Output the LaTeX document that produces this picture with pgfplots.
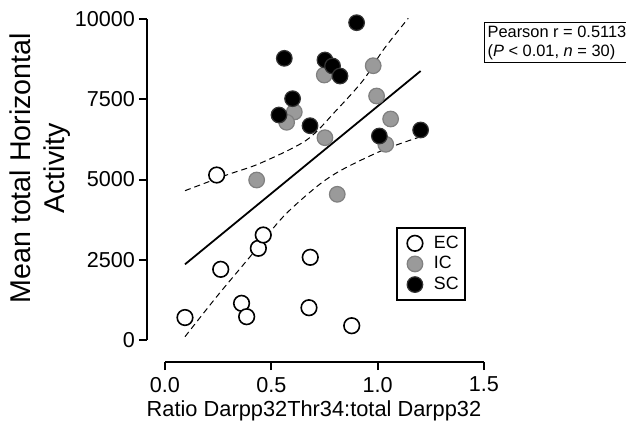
\documentclass[border=0pt]{standalone}
\usepackage{fontspec}
\setmainfont{Liberation Sans}
\usepackage{pgfplots}
\pgfplotsset{compat=1.18}
\definecolor{icgray}{HTML}{9A9A9A}
\definecolor{icedge}{HTML}{808080}

\begin{document}
\begin{tikzpicture}
\useasboundingbox (-82.5pt,-41.5pt) rectangle (230.5pt,170pt);
\begin{axis}[
  at={(0pt,0pt)}, anchor=south west,
  scale only axis,
  width=159.5pt, height=160.5pt,
  xmin=0, xmax=1.5, ymin=0, ymax=10000,
  clip=false,
  axis x line=bottom, axis y line=left,
  axis x line shift=11pt, axis y line shift=9pt,
  axis line style={-, line width=1pt},
  xtick={0,0.5,1,1.5}, ytick={0,2500,5000,7500,10000},
  tick align=outside, major tick length=4pt,
  tick style={line width=1pt, black},
  scaled y ticks=false,
  x tick label style={/pgf/number format/.cd, fixed, fixed zerofill, precision=1, /tikz/.cd},
  y tick label style={/pgf/number format/.cd, 1000 sep={}, /tikz/.cd, xshift=1.5pt},
  /pgf/number format/assume math mode=true,
  tick label style={font=\fontsize{10.8}{12}\selectfont},
  xlabel={Ratio Darpp32Thr34:total Darpp32},
  xlabel style={at={(rel axis cs:0.467,-0.237)}, anchor=base, font=\fontsize{10.9}{12}\selectfont},
  ylabel={Mean total Horizontal\\Activity},
  ylabel style={at={(rel axis cs:-0.39,0.535)}, anchor=center, align=center, font=\fontsize{14.3}{17}\selectfont},
  legend style={at={(rel axis cs:0.724,0.352)}, anchor=north west, draw=black, line width=1pt,
    font=\fontsize{8.9}{10}\selectfont, row sep=1pt, inner xsep=1pt, inner ysep=3pt,
    nodes={inner ysep=0.8pt}},
  legend cell align=left,
  legend image code/.code={
    \draw[#1] plot coordinates {(0.3cm,0cm)};
    \path (0.3cm-7.5pt,0cm) (0.3cm+7pt,0cm);},
]
% regression line and 95% band
\addplot[forget plot, black, line width=0.9pt] coordinates {(0.094,2358) (1.202,8380)};
\addplot[forget plot, black, line width=0.5pt, dash pattern=on 3pt off 2pt, smooth] coordinates {
  (0.094,4651) (0.29,5140) (0.447,5504) (0.666,6230) (0.807,7165) (0.933,8100) (1.026,9034) (1.144,10022)};
\addplot[forget plot, black, line width=0.5pt, dash pattern=on 3pt off 2pt, smooth] coordinates {
  (0.094,103) (0.243,1349) (0.40,2595) (0.556,3841) (0.713,4776) (0.83,5296) (1.026,5919) (1.202,6333)};

% EC
\addplot[only marks, mark=*, mark size=3.9pt, mark options={draw=black, fill=white, line width=0.8pt}] coordinates {
  (0.094,700) (0.243,5140) (0.262,2202) (0.36,1143) (0.384,726)
  (0.439,2857) (0.462,3271) (0.677,1006) (0.683,2576) (0.878,445)};
\addlegendentry{EC}
% IC
\addplot[only marks, mark=*, mark size=3.9pt, mark options={draw=icedge, fill=icgray, line width=0.6pt}] coordinates {
  (0.979,8545) (0.749,8255) (0.995,7601) (0.608,7103) (0.572,6782)
  (1.061,6885) (0.752,6302) (1.038,6096) (0.431,4984) (0.810,4539)};
\addlegendentry{IC}
% SC
\addplot[only marks, mark=*, mark size=3.9pt, mark options={draw=black!80, fill=black, line width=0.6pt}] coordinates {
  (0.901,9885) (0.561,8775) (0.752,8723) (0.788,8536) (0.823,8224)
  (0.600,7517) (0.536,7009) (0.682,6676) (1.008,6355) (1.202,6542)};
\addlegendentry{SC}

\node[anchor=north west, draw, line width=0.6pt, align=left, inner xsep=1.5pt, inner ysep=1.5pt,
  font=\fontsize{8.2}{9.6}\selectfont] at (rel axis cs:1.0,0.99)
  {Pearson r = 0.5113\\(\textit{P} < 0.01, \textit{n} = 30)};
\end{axis}
\end{tikzpicture}
\end{document}
